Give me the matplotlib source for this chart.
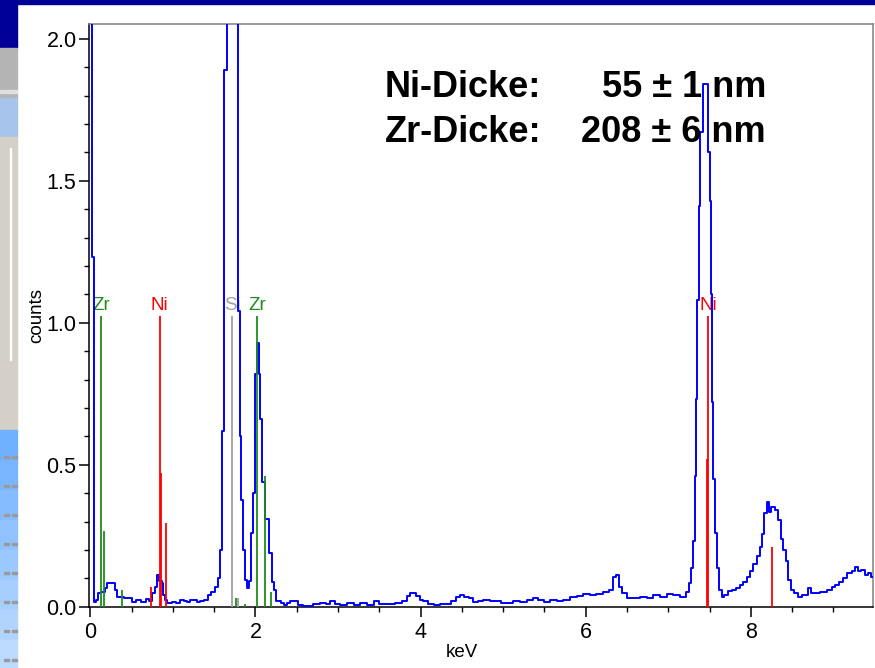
import numpy as np
import matplotlib
matplotlib.use("Agg")
import matplotlib.pyplot as plt
from matplotlib.patches import Rectangle
from matplotlib.ticker import MultipleLocator, FormatStrFormatter

# EDX-Spektrum, Energie in keV
energy = [0.005, 0.03, 0.05, 0.08, 0.11, 0.16, 0.19, 0.22, 0.25, 0.29,
          0.31, 0.33, 0.38, 0.44, 0.48, 0.52, 0.58, 0.65, 0.69, 0.73,
          0.77, 0.80, 0.82, 0.85, 0.875, 0.89, 0.91, 0.95, 1.02, 1.06,
          1.11, 1.15, 1.19, 1.23, 1.27, 1.31, 1.35, 1.40, 1.44, 1.49,
          1.53, 1.56, 1.59, 1.61, 1.64, 1.66, 1.70, 1.74, 1.78, 1.80,
          1.82, 1.84, 1.86, 1.89, 1.91, 1.93, 1.96, 1.98, 2.00, 2.03,
          2.05, 2.07, 2.10, 2.14, 2.18, 2.22, 2.24, 2.26, 2.29, 2.32,
          2.36, 2.40, 2.43, 2.48, 2.54, 2.60, 2.66, 2.74, 2.82, 2.88,
          2.93, 2.99, 3.07, 3.15, 3.23, 3.31, 3.39, 3.47, 3.53, 3.63,
          3.75, 3.81, 3.85, 3.89, 3.93, 3.97, 4.01, 4.06, 4.12, 4.20,
          4.28, 4.34, 4.40, 4.46, 4.50, 4.56, 4.62, 4.66, 4.72, 4.80,
          4.88, 4.94, 5.00, 5.08, 5.16, 5.24, 5.33, 5.39, 5.45, 5.53,
          5.61, 5.69, 5.77, 5.85, 5.93, 6.01, 6.09, 6.17, 6.25, 6.31,
          6.35, 6.38, 6.42, 6.46, 6.54, 6.62, 6.70, 6.78, 6.86, 6.94,
          7.02, 7.10, 7.18, 7.24, 7.27, 7.29, 7.31, 7.33, 7.345, 7.36,
          7.38, 7.40, 7.43, 7.47, 7.49, 7.51, 7.53, 7.54, 7.555, 7.57,
          7.60, 7.63, 7.66, 7.70, 7.75, 7.80, 7.85, 7.89, 7.93, 7.97,
          8.01, 8.05, 8.09, 8.12, 8.15, 8.18, 8.21, 8.23, 8.27, 8.31,
          8.35, 8.38, 8.41, 8.44, 8.47, 8.50, 8.54, 8.60, 8.64, 8.68,
          8.71, 8.75, 8.80, 8.88, 8.96, 9.00, 9.04, 9.10, 9.14, 9.20,
          9.24, 9.28, 9.32, 9.36, 9.40, 9.44, 9.48]
counts = [3.0, 1.23, 0.015, 0.024, 0.047, 0.053, 0.065, 0.082, 0.082, 0.082,
          0.059, 0.035, 0.033, 0.030, 0.030, 0.018, 0.024, 0.018, 0.026, 0.020,
          0.047, 0.071, 0.110, 0.090, 0.082, 0.041, 0.024, 0.012, 0.018, 0.014,
          0.024, 0.020, 0.018, 0.022, 0.024, 0.018, 0.020, 0.024, 0.041, 0.053,
          0.070, 0.100, 0.200, 0.620, 1.890, 3.5, 3.5, 3.5, 3.5, 1.04,
          0.60, 0.375, 0.20, 0.094, 0.066, 0.090, 0.26, 0.40, 0.82, 0.93,
          0.82, 0.66, 0.44, 0.31, 0.19, 0.088, 0.059, 0.020, 0.020, 0.012,
          0.006, 0.012, 0.020, 0.020, 0.006, 0.004, 0.003, 0.010, 0.012, 0.008,
          0.020, 0.010, 0.006, 0.012, 0.006, 0.012, 0.006, 0.020, 0.008, 0.008,
          0.012, 0.020, 0.037, 0.047, 0.047, 0.037, 0.025, 0.020, 0.008, 0.006,
          0.010, 0.008, 0.020, 0.033, 0.040, 0.033, 0.029, 0.015, 0.020, 0.022,
          0.020, 0.020, 0.012, 0.012, 0.020, 0.015, 0.025, 0.029, 0.022, 0.015,
          0.025, 0.020, 0.025, 0.033, 0.037, 0.043, 0.040, 0.043, 0.053, 0.059,
          0.106, 0.110, 0.070, 0.047, 0.032, 0.030, 0.035, 0.030, 0.041, 0.035,
          0.043, 0.041, 0.035, 0.053, 0.082, 0.135, 0.23, 0.46, 0.73, 1.08,
          1.41, 1.67, 1.84, 1.84, 1.60, 1.43, 1.10, 0.72, 0.45, 0.26,
          0.135, 0.060, 0.035, 0.040, 0.055, 0.059, 0.065, 0.075, 0.088, 0.105,
          0.125, 0.150, 0.180, 0.210, 0.255, 0.330, 0.370, 0.335, 0.350, 0.340,
          0.305, 0.240, 0.200, 0.160, 0.094, 0.059, 0.047, 0.035, 0.041, 0.040,
          0.065, 0.047, 0.047, 0.053, 0.059, 0.070, 0.077, 0.088, 0.100, 0.118,
          0.124, 0.140, 0.124, 0.130, 0.110, 0.118, 0.106]

# Linienmarker der Elemente
zr_lines_e = [0.135, 0.17, 0.38, 1.77, 1.87, 2.02, 2.12, 2.19]
zr_lines_h = [1.025, 0.267, 0.06, 0.03, 0.01, 1.025, 0.46, 0.053]
ni_lines_e = [0.73, 0.84, 0.85, 0.92, 7.465, 7.48, 8.26]
ni_lines_h = [0.07, 1.025, 0.47, 0.295, 0.52, 1.025, 0.21]
si_lines_e = [1.72, 1.79]
si_lines_h = [1.025, 0.03]

labels = ["Zr", "Ni", "Si", "Zr", "Ni"]
labels_e = [0.135, 0.84, 1.72, 2.02, 7.48]
labels_c = ["#1e8c1e", "#ff0000", "#a0a0a0", "#1e8c1e", "#ff0000"]

narrow = ["Liberation Sans Narrow", "Liberation Sans", "DejaVu Sans"]

fig = plt.figure(figsize=(8.75, 6.68), dpi=100)
fig.patch.set_facecolor("white")

# Hintergrund (Folienrand)
H = 668.0
W = 875.0
def band(x0, y0, w, h, c):
    fig.patches.append(Rectangle((x0 / W, 1 - (y0 + h) / H), w / W, h / H,
                                 transform=fig.transFigure, color=c, zorder=0))

band(0, 0, 875, 4, "#000099")
band(0, 0, 17, 48, "#000099")
band(0, 48, 17, 50, "#b4b4b4")
band(0, 90, 17, 3, "#e0e0e0")
band(0, 98, 17, 39, "#a6c4ec")
band(0, 137, 17, 293, "#d4d0c8")
band(10, 148, 1, 212, "#ffffff")
blues = ["#6fb0ff", "#7ab6ff", "#85bcff", "#90c2ff", "#9bc8ff", "#a6ceff",
         "#b1d4ff", "#bcdaff"]
for i, c in enumerate(blues):
    band(0, 430 + i * 30, 17, 30, c)
for i in range(8):
    band(4, 456 + i * 29, 5, 1.5, "#9a9a9a")
    band(12, 456 + i * 29, 5, 1.5, "#9a9a9a")

ax = fig.add_axes([89 / W, 1 - 606.7 / H, (872.7 - 89) / W, (606.7 - 23.7) / H])
ax.set_facecolor("white")

ax.plot(energy, counts, drawstyle="steps-mid", color="#0000ff", lw=1.4, zorder=3)

ax.vlines(zr_lines_e, 0, zr_lines_h, color="#1e8c1e", lw=1.3, zorder=4)
ax.vlines(ni_lines_e, 0, ni_lines_h, color="#ff0000", lw=1.3, zorder=4)
ax.vlines(si_lines_e, 0, si_lines_h, color="#a0a0a0", lw=1.3, zorder=4)

for lab, e, c in zip(labels, labels_e, labels_c):
    ax.text(e, 1.03, lab, color=c, ha="center", va="bottom", fontsize=13.5,
            family=narrow, zorder=2)

ax.set_xlim(-0.016, 9.476)
ax.set_ylim(0, 2.053)
ax.xaxis.set_major_locator(MultipleLocator(2))
ax.xaxis.set_minor_locator(MultipleLocator(0.5))
ax.yaxis.set_major_locator(MultipleLocator(0.5))
ax.yaxis.set_minor_locator(MultipleLocator(0.1))
ax.yaxis.set_major_formatter(FormatStrFormatter("%.1f"))

ax.tick_params(which="major", direction="out", length=7, width=1.1, pad=2,
               labelsize=15.5)
ax.tick_params(which="minor", direction="out", length=3.5, width=1.0)
ax.tick_params(axis="x", which="major", pad=4)
for t in ax.get_xticklabels() + ax.get_yticklabels():
    t.set_family(narrow)

for s in ["left", "bottom"]:
    ax.spines[s].set_color("black")
    ax.spines[s].set_linewidth(1.1)
for s in ["top", "right"]:
    ax.spines[s].set_color("#808080")
    ax.spines[s].set_linewidth(1.1)

ax.set_ylabel("counts", fontsize=13.5, family=narrow)
ax.yaxis.set_label_coords(-0.067, 0.5)
ax.set_xlabel("keV", fontsize=13.5, family=narrow)
ax.xaxis.set_label_coords(0.476, -0.079)
ax.xaxis.label.set_va("center")
ax.yaxis.label.set_va("center")

# Schichtdicken
bold = dict(fontsize=26, fontweight="bold", family=["Liberation Sans", "DejaVu Sans"],
            color="black")
fig.text(385 / W, 1 - 97 / H, "Ni-Dicke:", ha="left", va="baseline", **bold)
fig.text(385 / W, 1 - 142 / H, "Zr-Dicke:", ha="left", va="baseline", **bold)
fig.text(766 / W, 1 - 97 / H, "55 \u00b1 1 nm", ha="right", va="baseline", **bold)
fig.text(766 / W, 1 - 142 / H, "208 \u00b1 6 nm", ha="right", va="baseline", **bold)

fig.savefig("out.png", dpi=100)
